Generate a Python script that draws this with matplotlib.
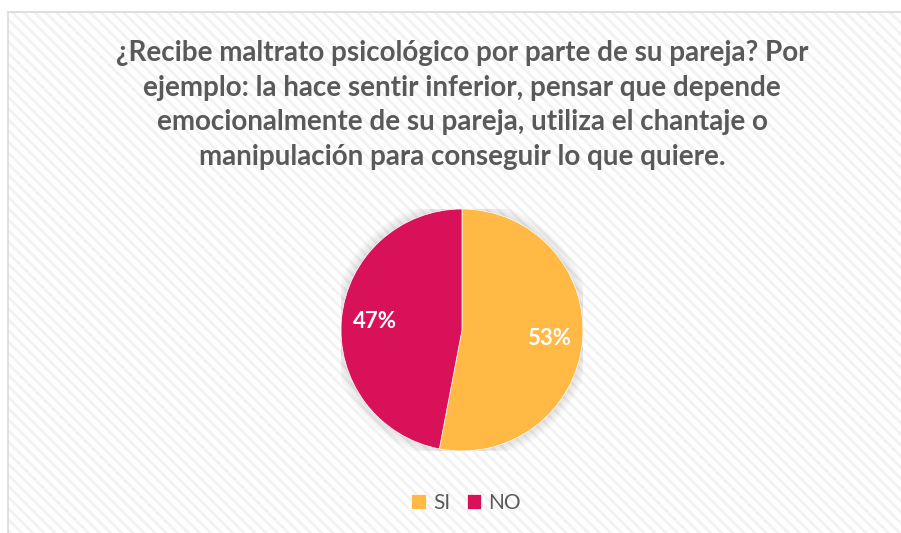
import matplotlib.pyplot as plt
from matplotlib.patches import Rectangle, Circle

# datos del gráfico
categorias = ['SI', 'NO']
valores = [53, 47]
colores = ['#FFB944', '#D91158']
titulo = ('¿Recibe maltrato psicológico por parte de su pareja? Por\n'
          'ejemplo: la hace sentir inferior, pensar que depende\n'
          'emocionalmente de su pareja, utiliza el chantaje o\n'
          'manipulación para conseguir lo que quiere.')

plt.rcParams['font.family'] = ['Lato', 'DejaVu Sans']
plt.rcParams['hatch.linewidth'] = 2.0

W, H = 901, 533
fig = plt.figure(figsize=(W / 100, H / 100), dpi=100)
fig.patch.set_facecolor('white')

# fondo rayado del área del gráfico
fondo = Rectangle((8 / W, 0), 1, 1 - 12 / H, transform=fig.transFigure,
                  facecolor='white', edgecolor='#f2f2f2', linewidth=0,
                  hatch='\\\\\\', zorder=-2)
fig.patches.append(fondo)
borde = Rectangle((8 / W, -0.01), 1, 1.01 - 12 / H, transform=fig.transFigure,
                  facecolor='none', edgecolor='#d9d9d9', linewidth=1.2,
                  zorder=-1)
fig.patches.append(borde)

# titulo
fig.text(462 / W, 1 - 105 / H, titulo, ha='center', va='center',
         fontsize=20, fontweight='bold', color='#595959', linespacing=1.42)

# pastel
cx, cy, r = 462, 330, 121
ax = fig.add_axes([(cx - r) / W, (H - cy - r) / H, 2 * r / W, 2 * r / H])
ax.axis('off')

# sombra suave
for k in range(8):
    ax.add_patch(Circle((0, 0), 1.0 + 0.012 * k, color='black',
                        alpha=0.014, lw=0, zorder=0))

wedges, textos, pcts = ax.pie(valores, colors=colores, startangle=90,
                              counterclock=False, radius=1,
                              autopct='%1.0f%%', pctdistance=0.72,
                              wedgeprops=dict(linewidth=0.5, edgecolor='white'),
                              textprops=dict(color='white', fontsize=16,
                                             fontweight='bold'))
for w in wedges:
    w.set_zorder(2)
for t in pcts:
    t.set_zorder(3)
ax.set_xlim(-1, 1)
ax.set_ylim(-1, 1)

# leyenda
leg = fig.legend(wedges, categorias, loc='center', ncol=2,
                 bbox_to_anchor=(466 / W, 1 - 503 / H), frameon=False,
                 fontsize=15, handlelength=0.7, handleheight=0.7,
                 handletextpad=0.35, columnspacing=0.8, labelcolor='#595959')

fig.savefig('out.png', dpi=100)
